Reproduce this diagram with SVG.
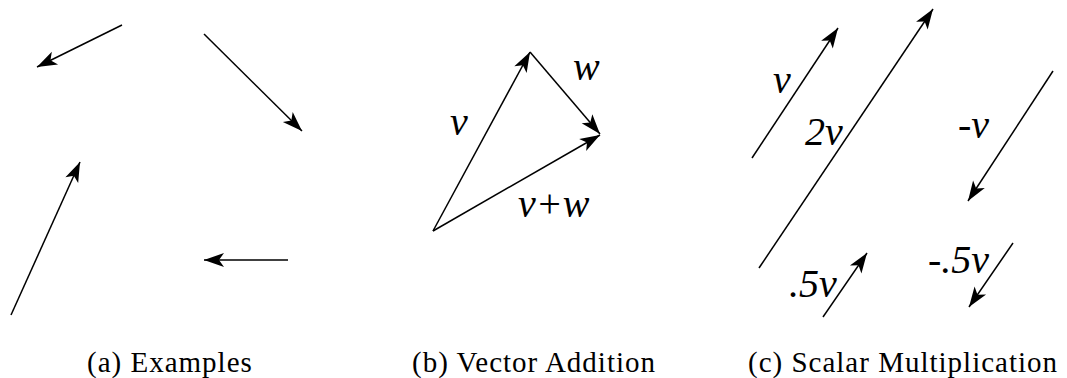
<svg xmlns="http://www.w3.org/2000/svg" width="1067" height="378" viewBox="0 0 1067 378">
<defs>
<marker id="ah" markerWidth="22" markerHeight="16" viewBox="-21 -8 22 16" refX="0" refY="0" orient="auto" markerUnits="userSpaceOnUse"><path d="M0,0 L-20,-7 L-15,0 L-20,7 Z" fill="#000"/></marker>
</defs>
<rect width="1067" height="378" fill="#fff"/>
<g id="connectors" stroke="#000" stroke-width="1.5" fill="none">
<line x1="122" y1="25" x2="37" y2="67" marker-end="url(#ah)"/>
<line x1="204" y1="34" x2="302" y2="131" marker-end="url(#ah)"/>
<line x1="11" y1="315" x2="80" y2="162" marker-end="url(#ah)"/>
<line x1="288" y1="260" x2="204" y2="260" marker-end="url(#ah)"/>
<line x1="433" y1="231" x2="530" y2="52" marker-end="url(#ah)"/>
<line x1="530" y1="52" x2="600" y2="134" marker-end="url(#ah)"/>
<line x1="433" y1="231" x2="600" y2="135" marker-end="url(#ah)"/>
<line x1="752" y1="158" x2="838" y2="28" marker-end="url(#ah)"/>
<line x1="759" y1="268" x2="933" y2="9" marker-end="url(#ah)"/>
<line x1="1053" y1="71" x2="968" y2="201" marker-end="url(#ah)"/>
<line x1="823" y1="317" x2="867" y2="253" marker-end="url(#ah)"/>
<line x1="1013" y1="243" x2="969" y2="307" marker-end="url(#ah)"/>
</g>
<g id="labels-b" font-family="Liberation Serif, serif" font-style="italic" font-size="40" fill="#000">
<text x="450" y="135">v</text>
<text x="573" y="80">w</text>
<text x="518" y="217">v+w</text>
</g>
<g id="labels-c" font-family="Liberation Serif, serif" font-style="italic" font-size="40" fill="#000">
<text x="773" y="93">v</text>
<text x="805" y="145">2v</text>
<text x="958" y="138">-v</text>
<text x="789" y="297">.5v</text>
<text x="928" y="273">-.5v</text>
</g>
<g id="captions" font-family="Liberation Serif, serif" font-size="29" letter-spacing="1" fill="#000">
<text x="87" y="372">(a) Examples</text>
<text x="412" y="372">(b) Vector Addition</text>
<text x="748" y="372">(c) Scalar Multiplication</text>
</g>
</svg>
